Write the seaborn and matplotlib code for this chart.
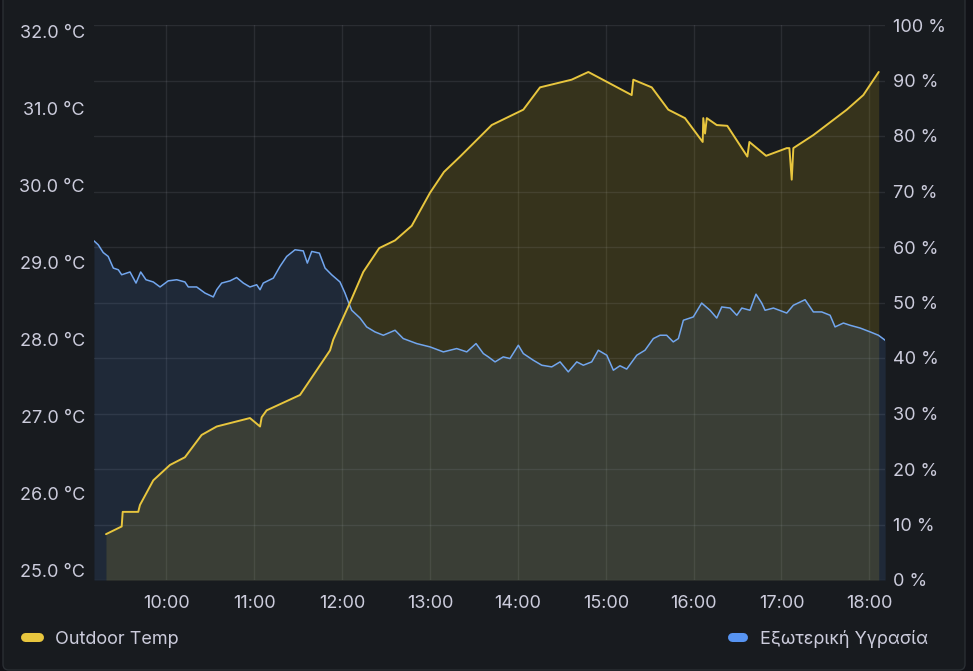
import matplotlib
matplotlib.use("Agg")
import matplotlib.pyplot as plt
import matplotlib.dates as mdates
from matplotlib.lines import Line2D
from matplotlib.patches import FancyBboxPatch
from matplotlib.ticker import FuncFormatter, FixedLocator
import pandas as pd
import seaborn as sns

# ---------------- data ----------------
series_names = ["Outdoor Temp", "Εξωτερική Υγρασία"]
day_start = "2024-07-01 09:00"

# minutes after 09:00
temp_minutes = [18.7, 29.4, 30.1, 40.7, 41.9, 51.0, 62.4, 72.6, 84.0, 94.3,
                117.0, 123.9, 125.0, 128.4, 151.2, 171.7, 173.9, 185.3, 194.4, 205.3,
                216.1, 227.5, 240.0, 249.5, 260.5, 282.1, 303.7, 315.1, 336.7, 348.1,
                377.7, 378.8, 391.4, 402.7, 414.1, 426.2, 426.6, 427.8, 429.0, 435.8,
                443.0, 456.7, 458.1, 469.5, 483.6, 485.4, 487.0, 488.1, 501.8, 524.6,
                535.9, 546.4]
temp_values = [25.47, 25.57, 25.76, 25.76, 25.85, 26.17, 26.37, 26.47, 26.76, 26.87,
               26.98, 26.87, 26.99, 27.08, 27.28, 27.86, 28.00, 28.48, 28.88, 29.19,
               29.29, 29.48, 29.91, 30.18, 30.38, 30.79, 30.99, 31.28, 31.38, 31.48,
               31.18, 31.38, 31.28, 30.99, 30.88, 30.57, 30.88, 30.68, 30.88, 30.79,
               30.78, 30.38, 30.57, 30.39, 30.49, 30.49, 30.08, 30.49, 30.66, 30.99,
               31.18, 31.48]

hum_minutes = [10.5, 13.4, 16.8, 20.2, 23.7, 27.1, 29.4, 35.1, 39.2, 42.4,
               46.0, 51.0, 55.6, 61.2, 67.0, 72.6, 74.9, 80.6, 86.3, 92.0,
               94.3, 97.7, 103.4, 107.9, 112.5, 117.0, 121.6, 123.9, 126.1, 133.0,
               137.5, 142.1, 147.8, 153.4, 156.2, 159.2, 164.4, 168.3, 172.8, 178.5,
               181.9, 184.2, 186.5, 192.2, 196.7, 202.4, 208.1, 216.1, 221.7, 230.9,
               240.0, 249.1, 258.2, 265.1, 271.4, 276.4, 279.8, 284.4, 290.0, 294.6,
               300.3, 303.7, 310.5, 316.3, 323.1, 328.8, 334.4, 340.2, 344.7, 350.4,
               354.9, 360.7, 365.2, 369.7, 374.3, 381.2, 386.8, 392.5, 397.1, 401.6,
               406.1, 409.6, 413.0, 419.8, 425.5, 431.2, 435.8, 439.2, 444.9, 449.5,
               452.9, 458.5, 462.6, 466.5, 468.8, 474.5, 483.6, 488.1, 496.1, 501.8,
               507.5, 513.2, 516.6, 522.3, 526.8, 533.7, 540.6, 546.2, 550.8]
hum_values = [61.1, 60.4, 59.0, 58.3, 56.2, 55.9, 55.0, 55.5, 53.5, 55.5,
              54.1, 53.7, 52.8, 53.9, 54.1, 53.7, 52.8, 52.8, 51.7, 51.0,
              52.3, 53.5, 53.9, 54.5, 53.5, 52.8, 53.2, 52.3, 53.5, 54.4,
              56.5, 58.3, 59.5, 59.3, 57.1, 59.2, 58.9, 56.2, 55.0, 53.7,
              51.7, 50.1, 48.6, 47.2, 45.6, 44.7, 44.1, 45.0, 43.5, 42.6,
              42.0, 41.1, 41.7, 41.1, 42.6, 40.8, 40.2, 39.3, 40.2, 39.9,
              42.3, 40.8, 39.6, 38.7, 38.4, 39.3, 37.5, 39.3, 38.7, 39.3,
              41.4, 40.5, 37.8, 38.6, 38.0, 40.5, 41.4, 43.5, 44.1, 44.1,
              42.9, 43.5, 46.8, 47.4, 49.9, 48.6, 47.2, 49.2, 49.0, 47.7,
              49.0, 48.6, 51.5, 49.9, 48.6, 49.0, 48.1, 49.5, 50.5, 48.3,
              48.3, 47.7, 45.6, 46.3, 45.9, 45.4, 44.7, 44.1, 43.2]

temp_ticks = [25, 26, 27, 28, 29, 30, 31, 32]
hum_ticks = [0, 10, 20, 30, 40, 50, 60, 70, 80, 90, 100]
x_range_minutes = [10.5, 550.7]
temp_range = [24.874, 32.091]
hum_range = [0, 100]

# ---------------- style ----------------
sns.set_theme(style="dark")
plt.rcParams['font.family'] = ['Inter', 'DejaVu Sans']

BG = '#181b1f'
OUTER = '#111217'
TXT = '#ccccdc'
YELLOW = '#E8C63E'
YELLOW_FILL = '#F2CC0C'
BLUE = '#5794F2'
BLUE_LINE = '#72A6EE'
FS = 13

base = pd.Timestamp(day_start)
temp_df = pd.DataFrame({'time': base + pd.to_timedelta(temp_minutes, unit='min'),
                        'value': temp_values})
hum_df = pd.DataFrame({'time': base + pd.to_timedelta(hum_minutes, unit='min'),
                       'value': hum_values})
xlim = [base + pd.to_timedelta(m, unit='min') for m in x_range_minutes]

W, H = 973, 671
fig = plt.figure(figsize=(W / 100, H / 100), dpi=100)
fig.patch.set_facecolor(OUTER)
panel = FancyBboxPatch((3 / W, 1 / H), 962 / W, 690 / H,
                       boxstyle="round,pad=0,rounding_size=0.006",
                       mutation_aspect=W / H,
                       transform=fig.transFigure, facecolor=BG,
                       edgecolor='#2a2e33', lw=1.0, zorder=-10)
fig.patches.append(panel)

ax = fig.add_axes([94 / W, 91 / H, 791 / W, 555 / H])
ax.set_facecolor(BG)
ax2 = ax.twinx()
ax3 = ax.twinx()

for a in (ax, ax2, ax3):
    for s in a.spines.values():
        s.set_visible(False)

# temperature fill (bottom layer)
ax.set_xlim(xlim)
ax.set_ylim(temp_range)
ax.fill_between(temp_df['time'], temp_df['value'], ax.get_ylim()[0],
                color=YELLOW_FILL, alpha=0.14, lw=0, zorder=2)

# humidity fill + line
ax2.set_ylim(hum_range)
ax2.fill_between(hum_df['time'], hum_df['value'], ax2.get_ylim()[0],
                 color=BLUE, alpha=0.12, lw=0, zorder=2)
sns.lineplot(data=hum_df, x='time', y='value', ax=ax2, color=BLUE_LINE,
             lw=1.1, legend=False, zorder=3)

# temperature line on top
ax3.set_ylim(temp_range)
sns.lineplot(data=temp_df, x='time', y='value', ax=ax3, color=YELLOW,
             lw=1.4, legend=False, zorder=3)
ax3.set_xlim(xlim)
ax3.axis('off')

# axes formatting
ax.xaxis.set_major_locator(mdates.HourLocator())
ax.xaxis.set_major_formatter(mdates.DateFormatter('%H:%M'))
ax.yaxis.set_major_locator(FixedLocator(temp_ticks))
ax.yaxis.set_major_formatter(FuncFormatter(lambda v, p: f"{v:.1f} °C"))
ax2.yaxis.set_major_locator(FixedLocator(hum_ticks))
ax2.yaxis.set_major_formatter(FuncFormatter(lambda v, p: f"{v:.0f} %"))

ax.tick_params(axis='x', length=0, pad=10.5, labelsize=FS, colors=TXT)
ax.tick_params(axis='y', length=0, pad=6.5, labelsize=FS, colors=TXT)
ax2.tick_params(axis='y', length=0, pad=5.8, labelsize=FS, colors=TXT)
for a in (ax, ax2):
    a.set_xlabel('')
    a.set_ylabel('')

ax.grid(False)
ax.xaxis.grid(True, color=TXT, alpha=0.1, lw=1.0)
ax2.grid(False)
ax2.yaxis.grid(True, color=TXT, alpha=0.1, lw=1.0)
ax2.set_axisbelow(True)
ax.set_axisbelow(True)

# legend
def legend_item(x0, x1, y, color, label, tx):
    fig.add_artist(Line2D([x0 / W, x1 / W], [1 - y / H, 1 - y / H],
                          transform=fig.transFigure, color=color, lw=6.5,
                          solid_capstyle='round'))
    fig.text(tx / W, 1 - y / H, label, color=TXT, fontsize=FS,
             ha='left', va='center_baseline')

legend_item(25, 38.5, 637, YELLOW, series_names[0], 55)
legend_item(731.5, 743, 637, BLUE, series_names[1], 760)

fig.savefig("out.png", dpi=100, facecolor=fig.get_facecolor())
